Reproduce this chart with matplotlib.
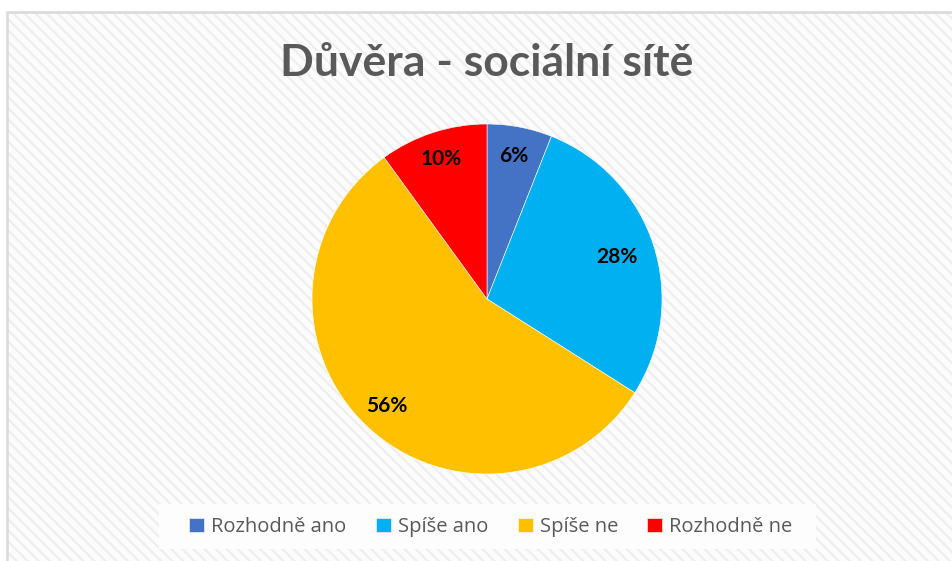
import numpy as np
import matplotlib.pyplot as plt
from matplotlib.patches import Rectangle

# data
categories = ['Rozhodně ano', 'Spíše ano', 'Spíše ne', 'Rozhodně ne']
shares = [6, 28, 56, 10]
colors = ['#4472C4', '#00B0F0', '#FFC000', '#FF0000']
title = 'Důvěra - sociální sítě'
label_dist = [0.83, 0.78, 0.84, 0.84]

plt.rcParams['hatch.linewidth'] = 1.6

W, H = 953, 561
fig = plt.figure(figsize=(W / 100, H / 100), dpi=100)
fig.patch.set_facecolor('white')

# striped chart area + thin frame
x0, ytop = 7, 12
bg = Rectangle((x0 / W, 0), 1.0, 1 - ytop / H, transform=fig.transFigure,
               facecolor='#fcfcfc', edgecolor='#eeeeee', hatch='\\\\\\',
               linewidth=0, zorder=-3)
fig.patches.append(bg)
frame = Rectangle((x0 / W, -0.01), 1.0, 1 - ytop / H + 0.01, transform=fig.transFigure,
                  fill=False, edgecolor='#d9d9d9', linewidth=1.8, zorder=-2)
fig.patches.append(frame)

# pie
cx, cy, r = 487, 299, 175
ax = fig.add_axes([(cx - r) / W, 1 - (cy + r) / H, 2 * r / W, 2 * r / H])
ax.set_zorder(2)
ax.patch.set_visible(False)
wedges, texts, autotexts = ax.pie(
    shares, colors=colors, startangle=90, counterclock=False,
    autopct='%d%%', pctdistance=0.82, radius=1,
    wedgeprops=dict(linewidth=0.4, edgecolor='white'),
    textprops=dict(fontsize=15, fontweight='bold', color='black',
                   family=['Lato', 'DejaVu Sans']))
# per-label distance from centre, like Excel's best fit
for w, t, d in zip(wedges, autotexts, label_dist):
    a = np.deg2rad((w.theta1 + w.theta2) / 2)
    t.set_position((d * np.cos(a), d * np.sin(a)))
ax.set_xlim(-1, 1)
ax.set_ylim(-1, 1)
ax.set_aspect('equal')
ax.axis('off')

fig.text(cx / W, 1 - 63 / H, title, ha='center', va='center',
         fontsize=32, fontweight='bold', color='#595959',
         family=['Lato', 'DejaVu Sans'])

# legend box
lx0, lx1, ly0, ly1 = 159, 816, 504, 549
fig.patches.append(Rectangle((lx0 / W, 1 - ly1 / H), (lx1 - lx0) / W, (ly1 - ly0) / H,
                             transform=fig.transFigure, facecolor='#fdfdfd',
                             edgecolor='none', zorder=-1))
leg = fig.legend(wedges, categories, loc='center', ncol=4,
                 bbox_to_anchor=(491 / W, 1 - 527 / H), frameon=False,
                 handlelength=0.75, handleheight=0.75, handletextpad=0.35,
                 columnspacing=1.45,
                 prop=dict(family=['Open Sans', 'DejaVu Sans'], size=14.5))
for t in leg.get_texts():
    t.set_color('#595959')
leg.set_zorder(3)

fig.savefig('out.png', dpi=100)
